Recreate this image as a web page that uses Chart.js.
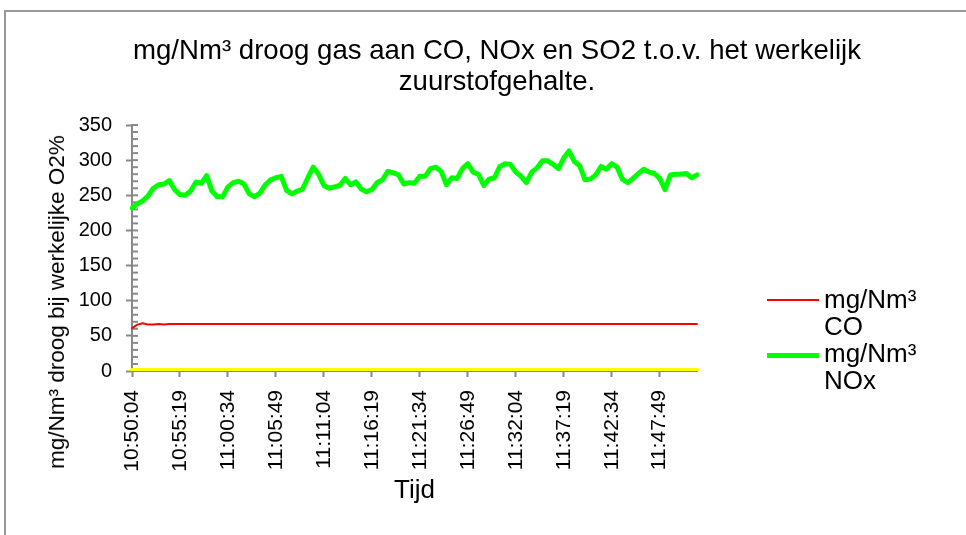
<!DOCTYPE html>
<html>
<head>
<meta charset="utf-8">
<script src="https://cdn.jsdelivr.net/npm/chart.js@4.4.0/dist/chart.umd.min.js"></script>
<style>
  body { margin: 0; background: #fff; font-family: "Liberation Sans", Arial, sans-serif; color: #000; }
  #wrap { position: relative; width: 966px; height: 535px; overflow: hidden; }
  #kader { position: absolute; left: 4px; top: 10px; width: 990px; height: 600px; border: 2px solid #999; }
  #grafiek { position: absolute; left: 0; top: 0; }
  #titel { position: absolute; left: 97px; width: 800px; top: 34px; text-align: center; font-size: 27.6px; line-height: 31px; }
  #ytitel { position: absolute; left: 57px; top: 302px; transform: translate(-50%, -50%) rotate(-90deg); white-space: nowrap; font-size: 22.5px; }
  #legenda { position: absolute; left: 767px; top: 286px; font-size: 26px; line-height: 27px; }
  .item { display: flex; align-items: flex-start; }
  .lijn { width: 52px; margin-right: 5px; margin-top: 13px; }
</style>
</head>
<body>
<div id="wrap">
  <div id="kader"></div>
  <canvas id="grafiek" width="966" height="535"></canvas>
  <div id="titel">mg/Nm³ droog gas aan CO, NOx en SO2 t.o.v. het werkelijk<br>zuurstofgehalte.</div>
  <div id="ytitel">mg/Nm³ droog bij werkelijke O2%</div>
  <div id="legenda"></div>
</div>
<script>
// meetpunten elke 35 seconden vanaf 10:50:04
const startTijd = "10:50:04";
const stapSec = 35;
const labelElke = 9; // 9 * 35 s = 5:15 tussen de labels

const reeksNamen = ["mg/Nm³ CO", "mg/Nm³ NOx", "mg/Nm³ SO2"];
const reeksKleuren = ["#ff0000", "#00ff00", "#ffff00"];

let coWaarden = [
    61, 66, 68, 66, 66, 67, 66, 67, 67, 67,
    67, 67, 67, 67, 67, 67, 67, 67, 67, 67,
    67, 67, 67, 67, 67, 67, 67, 67, 67, 67,
    67, 67, 67, 67, 67, 67, 67, 67, 67, 67,
    67, 67, 67, 67, 67, 67, 67, 67, 67, 67,
    67, 67, 67, 67, 67, 67, 67, 67, 67, 67,
    67, 67, 67, 67, 67, 67, 67, 67, 67, 67,
    67, 67, 67, 67, 67, 67, 67, 67, 67, 67,
    67, 67, 67, 67, 67, 67, 67, 67, 67, 67,
    67, 67, 67, 67, 67, 67, 67, 67, 67, 67,
    67, 67, 67, 67, 67, 67, 67
];

let noxWaarden = [
    232, 238, 242, 249, 260, 265, 266, 271, 258, 251,
    250, 256, 269, 267, 278, 256, 248, 248, 262, 268,
    270, 266, 252, 248, 253, 265, 272, 275, 277, 257,
    252, 256, 259, 275, 290, 280, 264, 260, 262, 264,
    274, 265, 269, 259, 255, 258, 268, 272, 284, 282,
    279, 266, 268, 267, 277, 277, 288, 290, 284, 265,
    275, 274, 288, 295, 283, 280, 264, 273, 275, 291,
    295, 294, 283, 277, 268, 283, 289, 299, 299, 294,
    288, 303, 313, 298, 292, 272, 273, 279, 291, 287,
    295, 290, 273, 268, 274, 281, 287, 283, 281, 274,
    258, 279, 280, 280, 281, 275, 279
];

let so2Waarden = [
    0, 0, 0, 0, 0, 0, 0, 0, 0, 0,
    0, 0, 0, 0, 0, 0, 0, 0, 0, 0,
    0, 0, 0, 0, 0, 0, 0, 0, 0, 0,
    0, 0, 0, 0, 0, 0, 0, 0, 0, 0,
    0, 0, 0, 0, 0, 0, 0, 0, 0, 0,
    0, 0, 0, 0, 0, 0, 0, 0, 0, 0,
    0, 0, 0, 0, 0, 0, 0, 0, 0, 0,
    0, 0, 0, 0, 0, 0, 0, 0, 0, 0,
    0, 0, 0, 0, 0, 0, 0, 0, 0, 0,
    0, 0, 0, 0, 0, 0, 0, 0, 0, 0,
    0, 0, 0, 0, 0, 0, 0
];

// tijdlabels maken
function tijdNaarSec(t) {
    const d = t.split(":").map(Number);
    return d[0] * 3600 + d[1] * 60 + d[2];
}
function secNaarTijd(s) {
    const u = Math.floor(s / 3600), m = Math.floor(s / 60) % 60, sec = s % 60;
    return u + ":" + String(m).padStart(2, "0") + ":" + String(sec).padStart(2, "0");
}
const tijden = noxWaarden.map((v, i) => secNaarTijd(tijdNaarSec(startTijd) + i * stapSec));

const asKleur = "#898989";
const lettertype = "'Liberation Sans', Arial, sans-serif";
Chart.defaults.font.family = lettertype;
Chart.defaults.color = "#000";

// kleine streepjes binnen de grafiek op de y-as
const binnenStreepjes = {
    id: "binnenStreepjes",
    beforeDatasetsDraw(chart) {
        const y = chart.scales.y;
        const ctx = chart.ctx;
        const x0 = chart.chartArea.left;
        ctx.save();
        ctx.strokeStyle = asKleur;
        ctx.lineWidth = 2;
        y.ticks.forEach((t, i) => {
            const py = y.getPixelForTick(i);
            ctx.beginPath();
            ctx.moveTo(x0, py);
            ctx.lineTo(x0 + 6, py);
            ctx.stroke();
        });
        ctx.restore();
    },
};

const reeksen = [coWaarden, noxWaarden, so2Waarden];
const dikte = [2, 5, 6];

new Chart(document.getElementById("grafiek"), {
    type: "line",
    data: {
        labels: tijden,
        datasets: reeksen.map((d, i) => ({
            label: reeksNamen[i],
            data: d,
            borderColor: reeksKleuren[i],
            backgroundColor: reeksKleuren[i],
            borderWidth: dikte[i],
            pointRadius: 0,
            tension: 0,
            borderJoinStyle: "round",
            borderCapStyle: "round",
            fill: false,
        })),
    },
    options: {
        responsive: false,
        animation: false,
        layout: {
            padding: { left: 0, top: 125, right: 269, bottom: 0 },
        },
        plugins: {
            legend: { display: false },
            tooltip: { enabled: false },
            title: { display: false },
        },
        scales: {
            x: {
                type: "category",
                afterBuildTicks: s => { s.ticks = s.ticks.filter((t, i) => i % labelElke === 0); },
                afterFit: s => { s.height = 164; },
                border: { color: asKleur, width: 2 },
                grid: { drawOnChartArea: false, tickLength: 6, tickWidth: 2, tickColor: asKleur },
                ticks: {
                    autoSkip: false,
                    minRotation: 90,
                    maxRotation: 90,
                    padding: 13,
                    font: { size: 21 },
                },
                title: {
                    display: true,
                    text: "Tijd",
                    font: { size: 26 },
                    padding: { top: 0, bottom: 29 },
                },
            },
            y: {
                min: 0,
                max: 350,
                afterFit: s => { s.width = 132; },
                border: { color: asKleur, width: 2 },
                grid: {
                    drawOnChartArea: false,
                    tickLength: 6,
                    tickWidth: 2,
                    tickColor: c => (c.tick && c.tick.value % 50 === 0 ? asKleur : "rgba(0,0,0,0)"),
                },
                ticks: {
                    stepSize: 10,
                    autoSkip: false,
                    padding: 14,
                    font: { size: 20 },
                    callback: v => (v % 50 === 0 ? v : ""),
                },
            },
        },
    },
    plugins: [binnenStreepjes],
});

// legenda (SO2 valt buiten het kader, net als in het origineel)
const legenda = document.getElementById("legenda");
[0, 1].forEach(i => {
    const item = document.createElement("div");
    item.className = "item";
    const lijn = document.createElement("div");
    lijn.className = "lijn";
    lijn.style.borderTop = dikte[i] + "px solid " + reeksKleuren[i];
    const tekst = document.createElement("div");
    tekst.innerHTML = reeksNamen[i].replace(" ", "<br>");
    item.appendChild(lijn);
    item.appendChild(tekst);
    legenda.appendChild(item);
});
</script>
</body>
</html>
